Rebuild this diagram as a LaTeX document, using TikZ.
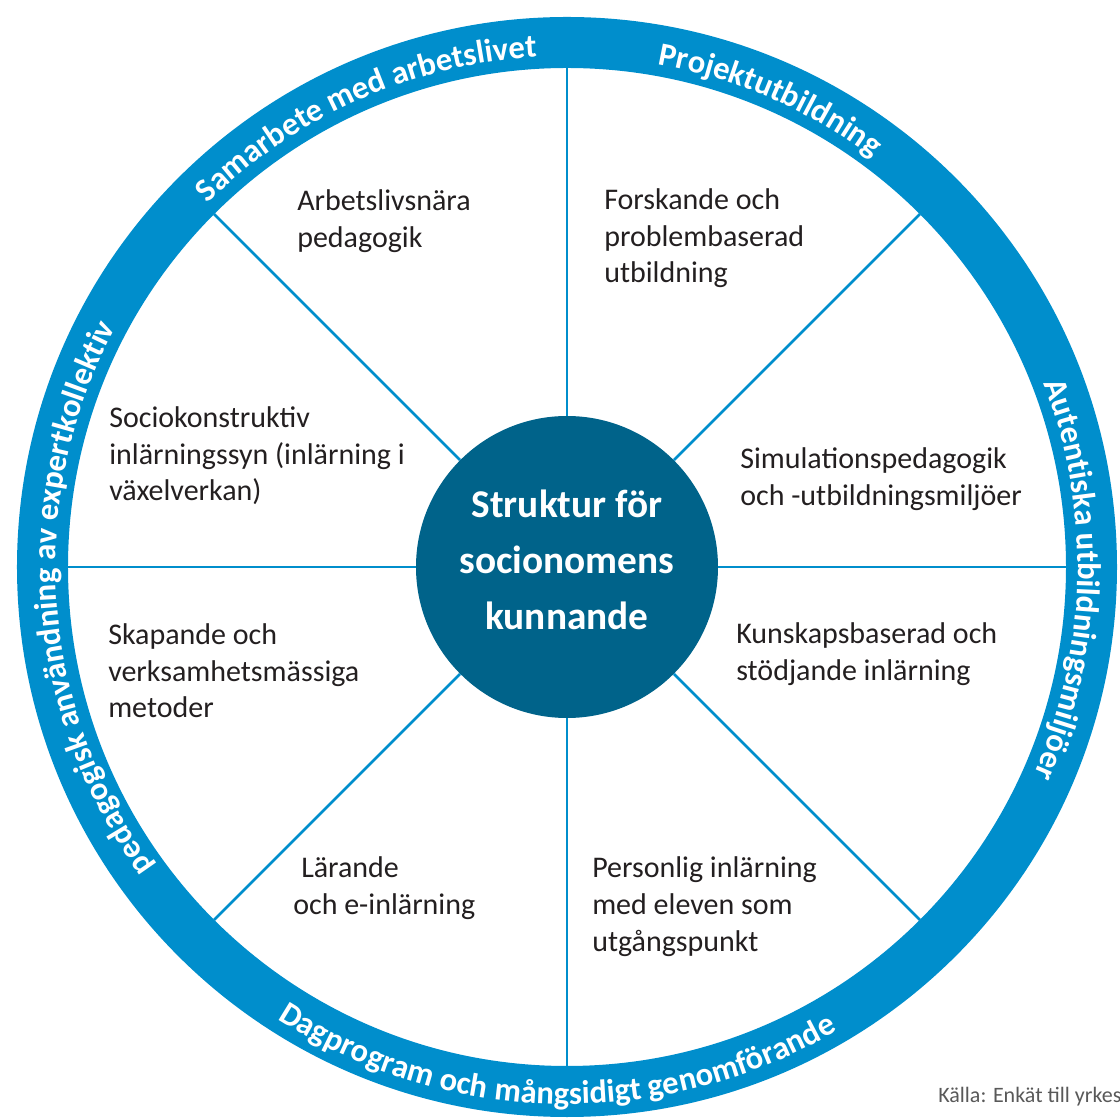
\documentclass[tikz,border=0pt]{standalone}
\usepackage{fontspec}
\setmainfont{Carlito}
\usetikzlibrary{decorations.text}
\definecolor{ringblue}{RGB}{0,142,204}
\definecolor{hubblue}{RGB}{0,99,138}
\definecolor{textgray}{RGB}{35,31,32}
\definecolor{srcgray}{RGB}{89,89,89}
\tikzset{
  segtext/.style={anchor=base west,align=left,inner sep=0pt,text=textgray,
    font=\fontsize{22.5}{27.4}\selectfont},
  ringtext/.style={decorate,decoration={text along path,text align=center,
    text={|\fontsize{24.5}{24.5}\selectfont\bfseries\color{white}|#1}}}
}
\begin{document}
\begin{tikzpicture}[x=0.75pt,y=0.75pt]
\useasboundingbox (-567,-552) rectangle (553,567);
\fill[ringblue,even odd rule] (0,0) circle (550) (0,0) circle (499);
\node[circle,fill=hubblue,minimum size=226.5pt,inner sep=0pt] (hub) at (0,0) {};
\node[align=center,text=white,font=\fontsize{29.5}{42}\selectfont\bfseries] (title) at (0,7) {Struktur för\\socionomens\\kunnande};
\foreach \a in {0,45,...,315}{
  \coordinate (rim\a) at (\a:499);
  \draw[ringblue,line width=2.1pt] (hub.\a) -- (rim\a);
}
\path[ringtext={Samarbete med arbetslivet}] (164:511) arc[start angle=164,end angle=64,radius=511];
\path[ringtext={Projektutbildning}] (116.5:511) arc[start angle=116.5,end angle=16.5,radius=511];
\path[ringtext={Autentiska utbildningsmiljöer}] (48.5:511) arc[start angle=48.5,end angle=-51.5,radius=511];
\path[ringtext={pedagogisk användning av expertkollektiv}] (244:511) arc[start angle=244,end angle=124,radius=511];
\path[ringtext={Dagprogram och mångsidigt genomförande}] (198.8:537) arc[start angle=198.8,end angle=338.8,radius=537];
\node[segtext] (arbets) at (-270,319.5) {Arbetslivsnära\\pedagogik};
\node[segtext] (forsk) at (37,284) {Forskande och\\problembaserad\\utbildning};
\node[segtext] (simul) at (173,61.5) {Simulationspedagogik\\och -utbildningsmiljöer};
\node[segtext] (socio) at (-458,66) {Sociokonstruktiv\\inlärningssyn (inlärning i\\växelverkan)};
\node[segtext] (kunsk) at (169,-113.5) {Kunskapsbaserad och\\stödjande inlärning};
\node[segtext] (skap) at (-459,-151) {Skapande och\\verksamhetsmässiga\\metoder};
\node[segtext] (lar) at (-274,-347.5) {\hspace*{6pt}Lärande\\och e-inlärning};
\node[segtext] (pers) at (25,-384) {Personlig inlärning\\med eleven som\\utgångspunkt};
\node[anchor=base west,inner sep=0pt,text=srcgray,font=\fontsize{16.5}{20}\selectfont] (source) at (371,-535) {Källa: Enkät till yrkes};
\end{tikzpicture}
\end{document}
